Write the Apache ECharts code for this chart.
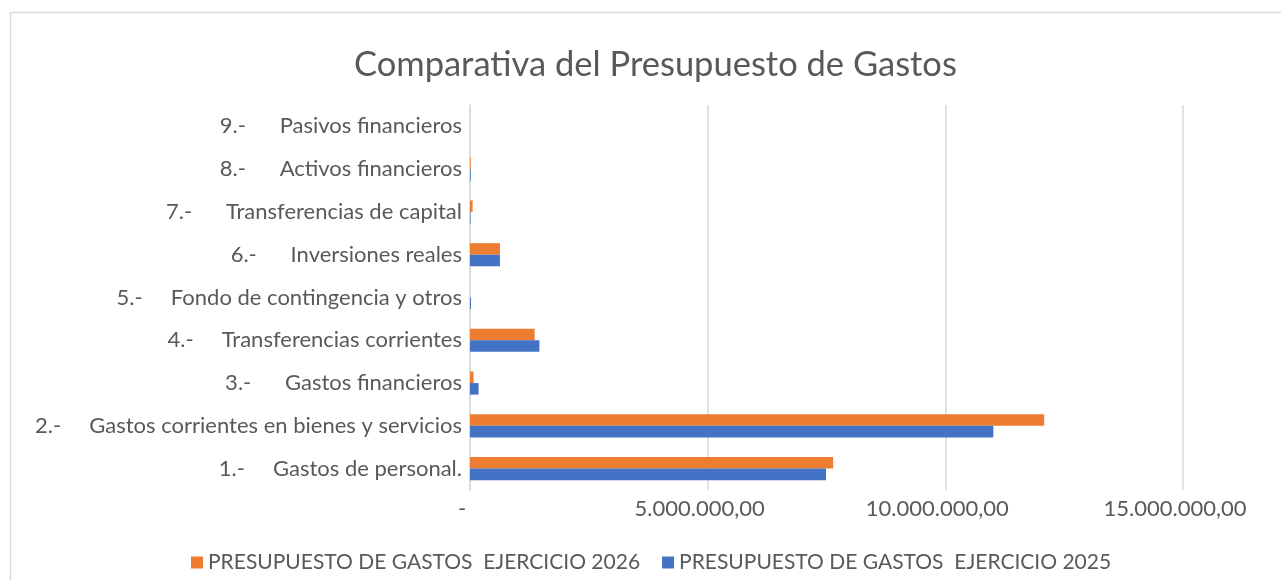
<!DOCTYPE html>
<html>
<head>
<meta charset="utf-8">
<script src="https://cdn.jsdelivr.net/npm/echarts@6/dist/echarts.min.js"></script>
<style>
  html, body { margin: 0; padding: 0; background: #fff; }
  #chart { width: 1281px; height: 580px; }
</style>
</head>
<body>
<div id="chart"></div>
<script>
"use strict";

// categorías (de abajo hacia arriba)
const categories = [
  "1.-     Gastos de personal.",
  "2.-     Gastos corrientes en bienes y servicios",
  "3.-      Gastos financieros",
  "4.-     Transferencias corrientes",
  "5.-     Fondo de contingencia y otros",
  "6.-      Inversiones reales",
  "7.-      Transferencias de capital",
  "8.-      Activos financieros",
  "9.-      Pasivos financieros"
];

// valores (euros)
const gastos2026 = [7640000, 12080000, 75000, 1360000, 0, 630000, 55000, 15000, 0];
const gastos2025 = [7490000, 11010000, 180000, 1460000, 20000, 630000, 12000, 15000, 0];

const axisTicks = [0, 5000000, 10000000, 15000000];

const FONT = "Lato, 'Open Sans', sans-serif";
const TEXT = "#595959";

// formato es-ES con dos decimales; el cero se muestra como "-"
function fmt(v) {
  if (v === 0) return "-";
  let parts = v.toFixed(2).split(".");
  let ent = parts[0].replace(/\B(?=(\d{3})+(?!\d))/g, ".");
  return ent + "," + parts[1];
}

let chart = echarts.init(document.getElementById("chart"));

chart.setOption({
  backgroundColor: "#fff",
  animation: false,
  textStyle: { fontFamily: FONT },
  graphic: [{
    type: "rect",
    shape: { x: 10.5, y: 12.5, width: 1300, height: 600 },
    style: { fill: "none", stroke: "#d9d9d9", lineWidth: 1.5 },
    silent: true
  }],
  title: {
    text: "Comparativa del Presupuesto de Gastos",
    left: 349,
    top: 42,
    textStyle: { fontFamily: FONT, fontSize: 34.5, fontWeight: "normal", color: TEXT }
  },
  legend: {
    bottom: 2,
    left: 186,
    itemWidth: 12,
    itemHeight: 12,
    itemGap: 22,
    icon: "rect",
    data: ["PRESUPUESTO DE GASTOS  EJERCICIO 2026", "PRESUPUESTO DE GASTOS  EJERCICIO 2025"],
    textStyle: { fontFamily: FONT, fontSize: 21, color: TEXT }
  },
  grid: { left: 470, right: 98, top: 105, bottom: 90 },
  xAxis: {
    type: "value",
    min: 0,
    max: 15000000,
    interval: 5000000,
    axisLine: { show: false },
    axisTick: { show: false },
    splitLine: { lineStyle: { color: "#d9d9d9", width: 1.5 } },
    axisLabel: {
      fontFamily: FONT, fontSize: 22, color: TEXT, margin: 8,
      padding: [0, 16, 0, 0],
      formatter: function(v) { return axisTicks.indexOf(v) >= 0 ? fmt(v) : ""; }
    }
  },
  yAxis: {
    type: "category",
    data: categories,
    axisLine: { show: true, lineStyle: { color: "#d9d9d9", width: 1.5 } },
    axisTick: { show: false },
    axisLabel: { fontFamily: FONT, fontSize: 22, color: TEXT, margin: 8 }
  },
  series: [
    {
      name: "PRESUPUESTO DE GASTOS  EJERCICIO 2026",
      type: "bar",
      data: gastos2026,
      itemStyle: { color: "#ed7d31" },
      barGap: "0%",
      barCategoryGap: "46%"
    },
    {
      name: "PRESUPUESTO DE GASTOS  EJERCICIO 2025",
      type: "bar",
      data: gastos2025,
      itemStyle: { color: "#4472c4" },
      barGap: "0%",
      barCategoryGap: "46%"
    }
  ]
});
</script>
</body>
</html>
